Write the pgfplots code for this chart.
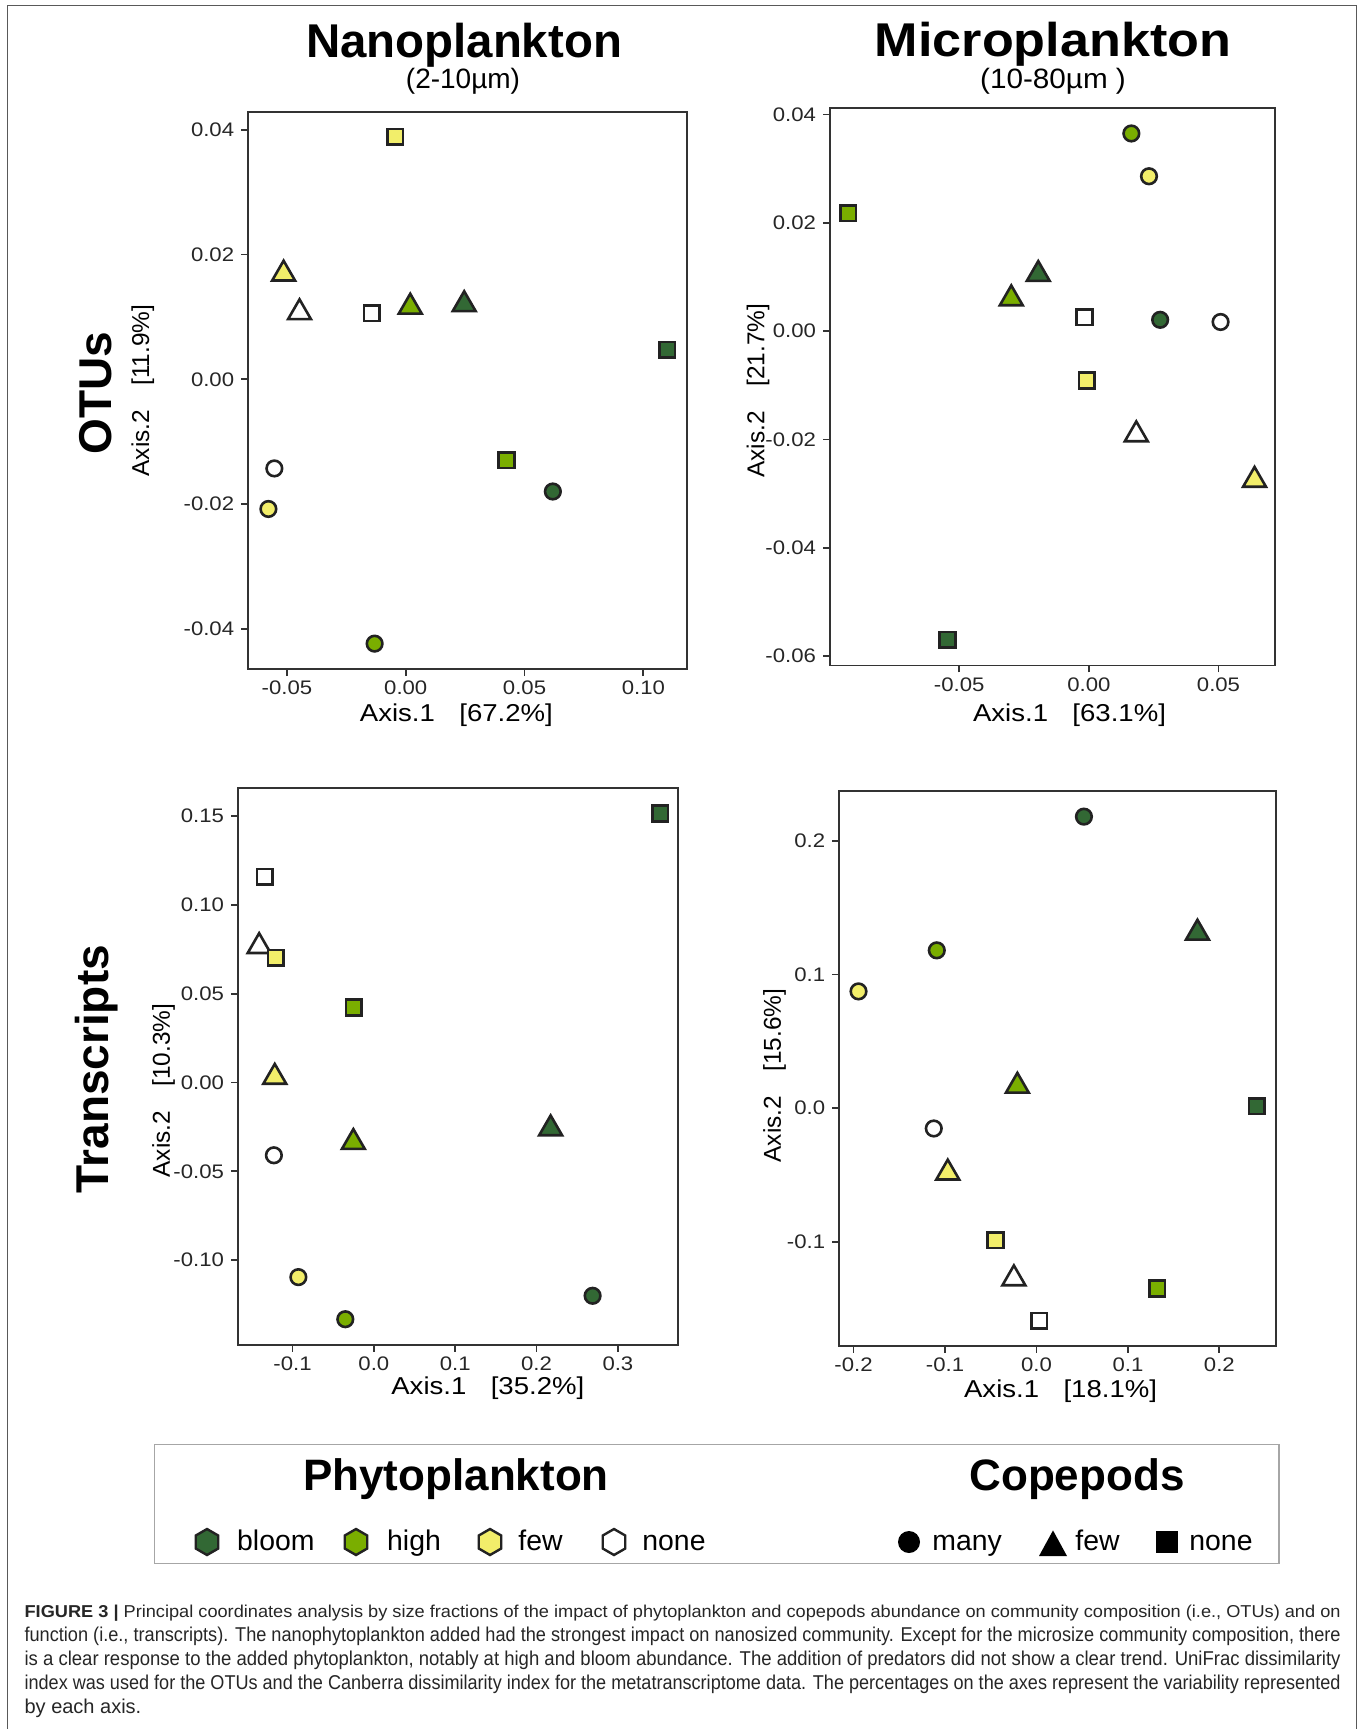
\documentclass[border=0pt]{standalone}
\usepackage{pgfplots}
\pgfplotsset{compat=1.18}
\usepackage{fontspec}
\usepackage{graphicx}
\setmainfont{Liberation Sans}
\newfontfamily\widefont[FakeStretch=1.13]{Liberation Sans}

\definecolor{cBloom}{RGB}{50,104,52}
\definecolor{cHigh}{RGB}{122,174,0}
\definecolor{cFew}{RGB}{242,238,106}
\definecolor{cEdge}{RGB}{34,34,34}

\pgfplotsset{
  pcoa/.style={
    scale only axis, clip=false,
    axis line style={black!80, line width=0.9pt},
    every tick/.style={black!80, line width=0.9pt},
    tick align=outside, major tick length=3.5pt, tick pos=left,
    ticklabel style={font=\widefont\fontsize{9.8}{11}\selectfont, text=black!85},
    xticklabel style={yshift=1pt},
    xlabel style={font=\widefont\fontsize{12.2}{14}\selectfont, anchor=center},
    ylabel style={font=\fontsize{12.2}{14}\selectfont, anchor=center},
    /pgf/number format/assume math mode=true,
    /pgf/number format/fixed, /pgf/number format/fixed zerofill,
    scaled ticks=false,
    scatter/classes={
      b={fill=cBloom, draw=cEdge},
      h={fill=cHigh, draw=cEdge},
      f={fill=cFew, draw=cEdge},
      n={fill=white, draw=cEdge}},
  },
  cmany/.style={scatter, only marks, scatter src=explicit symbolic, mark=*, mark size=3.9pt, mark options={line width=1.3pt, draw=cEdge}},
  cfew/.style={scatter, only marks, scatter src=explicit symbolic, mark=triangle*, mark size=6.6pt, mark options={line width=1.3pt, draw=cEdge}},
  cnone/.style={scatter, only marks, scatter src=explicit symbolic, mark=square*, mark size=3.9pt, mark options={line width=1.3pt, draw=cEdge}},
}

\begin{document}
\begin{tikzpicture}
\path[use as bounding box] (0,0) rectangle (681pt,-864.5pt);
% outer frame
\draw[black!65, line width=0.7pt] (3.65pt,-864.5pt) -- (3.65pt,-2.85pt) -- (678.2pt,-2.85pt) -- (678.2pt,-864.5pt);

% column titles
\node[anchor=base, inner sep=0] at (232pt,-28.8pt) {\bfseries\fontsize{23.7}{28}\selectfont Nanoplankton};
\node[anchor=base, inner sep=0] at (231.5pt,-44.3pt) {\fontsize{14}{16}\selectfont (2-10µm)};
\node[anchor=base, inner sep=0] at (526.5pt,-28.3pt) {\scalebox{1.1}[1]{\bfseries\fontsize{23.7}{28}\selectfont Microplankton}};
\node[anchor=base, inner sep=0] at (526.5pt,-44.3pt) {\scalebox{1.06}[1]{\fontsize{14}{16}\selectfont (10-80µm )}};
% row titles
\node[rotate=90, inner sep=0] at (48pt,-196.5pt) {\bfseries\fontsize{23}{28}\selectfont OTUs};
\node[rotate=90, inner sep=0] at (48.4pt,-534.5pt) {\bfseries\fontsize{23}{28}\selectfont Transcripts};

% Nanoplankton OTUs
\begin{axis}[pcoa, at={(124.1pt,-55.9pt)}, anchor=north west,
  width=219.2pt, height=278.7pt,
  xmin=-0.0663, xmax=0.1182, ymin=-0.0465, ymax=0.0429,
  xtick={-0.05,0,0.05,0.10}, ytick={-0.04,-0.02,0,0.02,0.04},
  /pgf/number format/precision=2,
  xlabel={Axis.1\quad[67.2\%]}, ylabel={Axis.2\quad[11.9\%]},
  xlabel style={at={(axis description cs:0.4749,-0.0822)}},
  ylabel style={at={(axis description cs:-0.2404,0.5)}}]
\addplot[cmany] coordinates {(0.0619,-0.0180) [b] (-0.0131,-0.0424) [h] (-0.0578,-0.0208) [f] (-0.0553,-0.0143) [n]};
\addplot[cfew] coordinates {(0.0246,0.0120) [b] (0.0019,0.0116) [h] (-0.0514,0.0169) [f] (-0.0447,0.0107) [n]};
\addplot[cnone] coordinates {(0.1100,0.0047) [b] (0.0424,-0.0130) [h] (-0.0045,0.0389) [f] (-0.0143,0.0106) [n]};
\end{axis}

% Microplankton OTUs
\begin{axis}[pcoa, at={(415pt,-54pt)}, anchor=north west,
  width=222.5pt, height=278.7pt,
  xmin=-0.0998, xmax=0.0718, ymin=-0.0617, ymax=0.0412,
  xtick={-0.05,0,0.05}, ytick={-0.06,-0.04,-0.02,0,0.02,0.04},
  /pgf/number format/precision=2,
  xlabel={Axis.1\quad[63.1\%]}, ylabel={Axis.2\quad[21.7\%]},
  xlabel style={at={(axis description cs:0.5382,-0.0890)}},
  ylabel style={at={(axis description cs:-0.1618,0.4928)}}]
\addplot[cmany] coordinates {(0.0275,0.0021) [b] (0.0164,0.0365) [h] (0.0232,0.0286) [f] (0.0508,0.0017) [n]};
\addplot[cfew] coordinates {(-0.0195,0.0105) [b] (-0.0299,0.0060) [h] (0.0639,-0.0275) [f] (0.0183,-0.0191) [n]};
\addplot[cnone] coordinates {(-0.0545,-0.0570) [b] (-0.0928,0.0218) [h] (-0.0008,-0.0091) [f] (-0.0017,0.0026) [n]};
\end{axis}

% Nanoplankton transcripts
\begin{axis}[pcoa, at={(119pt,-393.9pt)}, anchor=north west,
  width=219.85pt, height=278.4pt,
  xmin=-0.167, xmax=0.3735, ymin=-0.1476, ymax=0.1659,
  xtick={-0.1,0,0.1,0.2,0.3}, ytick={-0.10,-0.05,0,0.05,0.10,0.15},
  xticklabel style={/pgf/number format/precision=1},
  yticklabel style={/pgf/number format/precision=2},
  xlabel={Axis.1\quad[35.2\%]}, ylabel={Axis.2\quad[10.3\%]},
  xlabel style={at={(axis description cs:0.5682,-0.0790)}},
  ylabel style={at={(axis description cs:-0.1692,0.4562)}}]
\addplot[cmany] coordinates {(0.2689,-0.1201) [b] (-0.0351,-0.1333) [h] (-0.0928,-0.1096) [f] (-0.1229,-0.0410) [n]};
\addplot[cfew] coordinates {(0.2173,-0.0260) [b] (-0.0252,-0.0337) [h] (-0.1218,0.0030) [f] (-0.1410,0.0766) [n]};
\addplot[cnone] coordinates {(0.3518,0.1514) [b] (-0.0247,0.0422) [h] (-0.1207,0.0703) [f] (-0.1339,0.1157) [n]};
\end{axis}

% Microplankton transcripts
\begin{axis}[pcoa, at={(419.6pt,-395.4pt)}, anchor=north west,
  width=218.35pt, height=277.55pt,
  xmin=-0.2157, xmax=0.2618, ymin=-0.1778, ymax=0.2373,
  xtick={-0.2,-0.1,0,0.1,0.2}, ytick={-0.1,0,0.1,0.2},
  /pgf/number format/precision=1,
  xlabel={Axis.1\quad[18.1\%]}, ylabel={Axis.2\quad[15.6\%]},
  xlabel style={at={(axis description cs:0.5069,-0.0811)}},
  ylabel style={at={(axis description cs:-0.1479,0.4870)}}]
\addplot[cmany] coordinates {(0.0519,0.2180) [b] (-0.1090,0.1180) [h] (-0.1946,0.0873) [f] (-0.1123,-0.0152) [n]};
\addplot[cfew] coordinates {(0.1760,0.1310) [b] (-0.0209,0.0165) [h] (-0.0970,-0.0484) [f] (-0.0247,-0.1275) [n]};
\addplot[cnone] coordinates {(0.2407,0.0016) [b] (0.1318,-0.1349) [h] (-0.0447,-0.0986) [f] (0.0029,-0.1589) [n]};
\end{axis}

% legend
\draw[black!35, line width=0.6pt] (77.35pt,-722.3pt) rectangle (639.5pt,-781.9pt);
\node[anchor=base, inner sep=0] at (228pt,-745pt) {\bfseries\fontsize{22}{26}\selectfont Phytoplankton};
\node[anchor=base, inner sep=0] at (538.5pt,-745pt) {\bfseries\fontsize{22}{26}\selectfont Copepods};
\foreach \cx/\lx/\col/\txt in {103.5/118.4/cBloom/bloom, 178/193.4/cHigh/high, 245/259/cFew/few, 307/321/white/none}{
  \draw[cEdge, line width=1.2pt, fill=\col] (\cx pt,-771pt) +(90:6.5pt) -- +(150:6.5pt) -- +(210:6.5pt) -- +(270:6.5pt) -- +(330:6.5pt) -- +(30:6.5pt) -- cycle;
  \node[anchor=base west, inner sep=0] at (\lx pt,-775pt) {\fontsize{14.2}{17}\selectfont \txt};
}
\fill[black] (454.5pt,-771pt) circle (5.5pt);
\node[anchor=base west, inner sep=0] at (466pt,-775pt) {\fontsize{14.2}{17}\selectfont many};
\fill[black] (519.5pt,-778pt) -- (533.5pt,-778pt) -- (526.5pt,-765.2pt) -- cycle;
\node[anchor=base west, inner sep=0] at (537.5pt,-775pt) {\fontsize{14.2}{17}\selectfont few};
\fill[black] (578pt,-776.5pt) rectangle (589pt,-765.5pt);
\node[anchor=base west, inner sep=0] at (594.5pt,-775pt) {\fontsize{14.2}{17}\selectfont none};

% caption
\node[anchor=north west, inner sep=0, align=left, text=black!85] at (12.1pt,-802.4pt) {\fontsize{8.6}{13}\selectfont
\resizebox{658pt}{\height}{\textbf{FIGURE 3 |} Principal coordinates analysis by size fractions of the impact of phytoplankton and copepods abundance on community composition (i.e., OTUs) and on}\\
\resizebox{658pt}{\height}{function (i.e., transcripts). The nanophytoplankton added had the strongest impact on nanosized community. Except for the microsize community composition, there}\\
\resizebox{658pt}{\height}{is a clear response to the added phytoplankton, notably at high and bloom abundance. The addition of predators did not show a clear trend. UniFrac dissimilarity}\\
\resizebox{658pt}{\height}{index was used for the OTUs and the Canberra dissimilarity index for the metatranscriptome data. The percentages on the axes represent the variability represented}\\
by each axis.};
\end{tikzpicture}
\end{document}
